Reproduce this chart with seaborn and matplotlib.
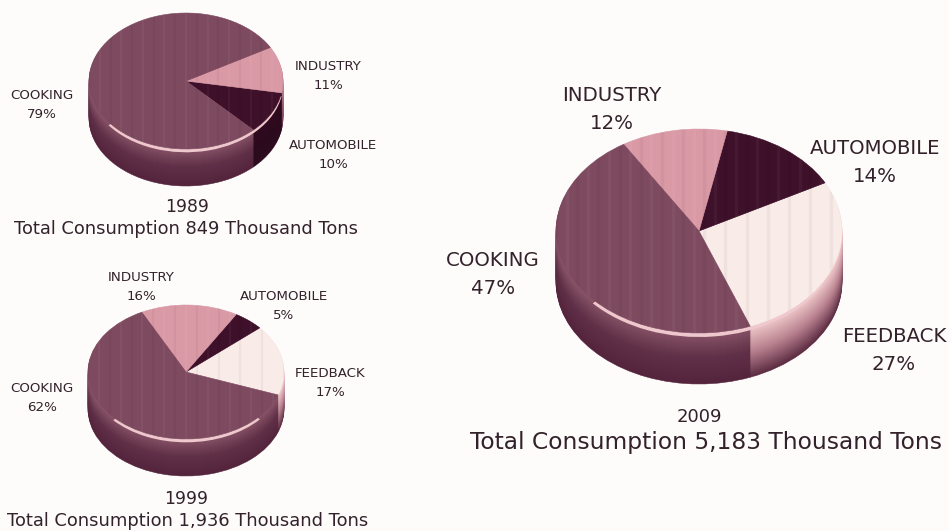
import matplotlib
matplotlib.use('Agg')
import matplotlib.pyplot as plt
import numpy as np
import seaborn as sns
from matplotlib.patches import Circle

categories = ['FEEDBACK', 'AUTOMOBILE', 'INDUSTRY', 'COOKING']
values_1989 = [0, 10, 11, 79]
values_1999 = [17, 5, 16, 62]
values_2009 = [27, 14, 12, 47]
years = ['1989', '1999', '2009']
totals = ['849', '1,936', '5,183']

W, H = 949, 531
BG = '#fdfcfb'
TEXT = '#33222b'
face_colors = ['#f8ebe8', '#3e1029', '#d99aa6', '#7e4a60']
side_ramps = [
    ['#f2cccc', '#b98290', '#5d2c42'],
    ['#33091f', '#2c0a1e', '#2e0c20'],
    ['#b9808e', '#8a5468', '#6a3a50'],
    ['#8a5569', '#5f3047', '#54243c'],
]
HIGHLIGHT = '#eec8cc'

sns.set_theme(style='white')
plt.rcParams['font.family'] = ['DejaVu Sans']
fig = plt.figure(figsize=(W / 100, H / 100), dpi=100, facecolor=BG)


def seal_edges(wedges):
    # same colour edge so no hairline shows between wedges
    for w in wedges:
        w.set_edgecolor(w.get_facecolor())
        w.set_linewidth(0.4)


def draw_pie(values, cx, cy, rx, ry, depth, start, hl_from, hl_to):
    ax = fig.add_axes([(cx - rx * 1.05) / W, 1 - (cy + ry * 1.05 + depth) / H,
                       2.1 * rx / W, (2.1 * ry + depth) / H])
    drop = depth / ry

    # side of the disc: a stack of pies, bottom one first
    ramps = [sns.blend_palette(r, depth + 1) for r in side_ramps]
    for k in range(depth, 0, -1):
        wedges, _ = ax.pie(values, colors=[r[k] for r in ramps], startangle=start,
                           center=(0, -k / ry))
        seal_edges(wedges)

    # light crescent along the front rim
    ax.pie([hl_to - hl_from, 360 - (hl_to - hl_from)], colors=[HIGHLIGHT, 'none'],
           startangle=hl_from, center=(0, -4 / ry * (rx / 143) ** 0.5),
           wedgeprops={'linewidth': 0})

    wedges, _ = ax.pie(values, colors=face_colors, startangle=start)
    seal_edges(wedges)

    # faint vertical streaks on the top face
    clip = Circle((0, 0), 1, transform=ax.transData)
    for i, x in enumerate(np.linspace(-1, 1, int(rx / 5))):
        col = 'white' if i % 2 else 'black'
        ln = ax.vlines(x, -1, 1, color=col, alpha=0.04, linewidth=rx / 60)
        ln.set_clip_path(clip)

    ax.set_aspect('auto')
    ax.set_xlim(-1.05, 1.05)
    ax.set_ylim(-1.05 - drop, 1.05)


def put(x, y, s, size, weight='normal'):
    fig.text(x / W, 1 - y / H, s, fontsize=size, color=TEXT, ha='center', va='center',
             fontweight=weight, linespacing=1.6)


def slice_label(x, y, name, values, size):
    v = values[categories.index(name)]
    put(x, y, f'{name}\n{v}%', size)


draw_pie(values_1989, 186, 81, 97, 68, 37, -46, 217, 350)
draw_pie(values_1999, 186, 372, 98, 67, 37, -20, 222, 319)
draw_pie(values_2009, 699, 231, 143, 102, 51, -69, 222, 330)

small = 9.6
big = 14.2
slice_label(328, 76, 'INDUSTRY', values_1989, small)
slice_label(42, 105, 'COOKING', values_1989, small)
slice_label(333, 155, 'AUTOMOBILE', values_1989, small)

slice_label(141, 287, 'INDUSTRY', values_1999, small)
slice_label(284, 306, 'AUTOMOBILE', values_1999, small)
slice_label(330, 383, 'FEEDBACK', values_1999, small)
slice_label(42, 398, 'COOKING', values_1999, small)

slice_label(612, 110, 'INDUSTRY', values_2009, big)
slice_label(875, 162, 'AUTOMOBILE', values_2009, big)
slice_label(894, 351, 'FEEDBACK', values_2009, big)
slice_label(493, 275, 'COOKING', values_2009, big)

put(187, 207, years[0], 12.4)
put(186, 229, f'Total Consumption {totals[0]} Thousand Tons', 12.9)
put(186, 499, years[1], 12.4)
put(188, 521, f'Total Consumption {totals[1]} Thousand Tons', 12.9)
put(699, 417, years[2], 13)
put(706, 442, f'Total Consumption {totals[2]} Thousand Tons', 16.8)

plt.savefig('out.png', dpi=100, facecolor=BG)
